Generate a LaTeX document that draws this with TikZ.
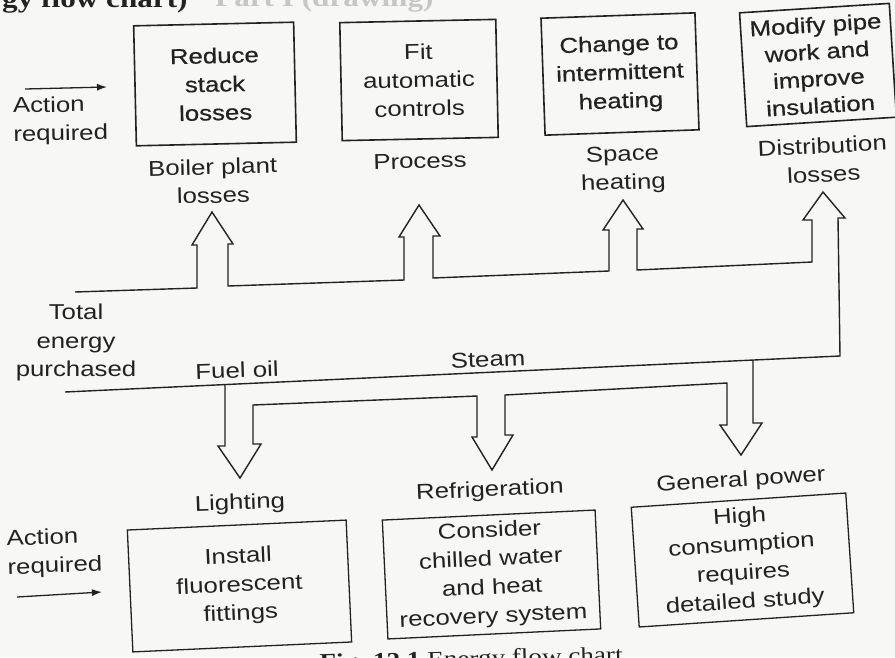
\documentclass[tikz,border=0pt]{standalone}
\usepackage{fontspec}
\setmainfont{Liberation Sans}[FakeStretch=1.2]
\newfontfamily\heavyfont{Liberation Sans}[FakeStretch=1.2, FakeBold=0.6]
\newfontfamily\capfont{Liberation Serif}[FakeStretch=1.2]
\usetikzlibrary{arrows.meta}
\definecolor{ink}{HTML}{222222}
\definecolor{paper}{HTML}{F7F7F5}
\tikzset{
  lbl/.style={font=\fontsize{21.5}{28.5}\selectfont, align=center, inner sep=0pt, text=ink},
  actbox/.style={draw=ink, line width=1.6pt, inner sep=0pt, align=center,
    font=\fontsize{21.5}{28.5}\selectfont, text=ink},
  heavy/.style={font=\heavyfont\fontsize{21.5}{28.5}\selectfont},
  lowbox/.style={actbox, line width=1.3pt},
  flow/.style={draw=ink, line width=1.4pt, line join=miter},
  pointer/.style={draw=ink, line width=1.3pt, -{Latex[length=10pt,width=7pt]}},
}
\begin{document}
\begin{tikzpicture}[x=1pt,y=-1pt]
\fill[paper] (0,0) rectangle (895,657);
\useasboundingbox (0,0) rectangle (895,657);
\clip (0,0) rectangle (895,657);

% partial heading and caption (cut by the page edge)
\node[anchor=base west, inner sep=0pt, text=ink,
  font=\capfont\bfseries\fontsize{26}{30}\selectfont] (title) at (2,7) {gy flow chart)};
\node[anchor=base west, inner sep=0pt, text=gray!45,
  font=\capfont\bfseries\fontsize{26}{30}\selectfont] (title2) at (215,6) {Part I (drawing)};
\node[anchor=base east, inner sep=0pt, rotate=1.5, text=ink,
  font=\capfont\fontsize{22.6}{26}\selectfont] (caption) at (623,662) {\textbf{Fig. 12.1} Energy flow chart};

% action boxes, top row
\node[actbox, heavy, rotate=1.3, minimum width=160pt, minimum height=120pt] (b1) at (215,84) {Reduce\\stack\\losses};
\node[actbox, rotate=1.2, minimum width=156pt, minimum height=118pt] (b2) at (419,80) {Fit\\automatic\\controls};
\node[actbox, heavy, rotate=2, minimum width=154pt, minimum height=117pt] (b3) at (620,74) {Change to\\intermittent\\heating};
\node[actbox, rotate=3.6, minimum width=150pt, minimum height=114pt,
  font=\heavyfont\fontsize{21.5}{27}\selectfont] (b4) at (818,65) {Modify pipe\\work and\\improve\\insulation};

% action boxes, bottom row
\node[lowbox, rotate=2.6, minimum width=219pt, minimum height=122pt] (l1) at (239.5,586) {Install\\fluorescent\\fittings};
\node[lowbox, rotate=2.7, minimum width=213pt, minimum height=119pt] (l2) at (491.5,574.5) {Consider\\chilled water\\and heat\\recovery system};
\node[lowbox, rotate=3.8, minimum width=215pt, minimum height=120pt] (l3) at (742.5,560) {High\\consumption\\requires\\detailed study};

% labels
\node[lbl, rotate=1, anchor=west, align=left] (act1) at (13,121.5) {Action\\required};
\node[lbl, rotate=1.5] (boiler) at (213,181) {Boiler plant\\losses};
\node[lbl, rotate=1.5] (process) at (420,161) {Process};
\node[lbl, rotate=2] (space) at (623,170) {Space\\heating};
\node[lbl, rotate=3] (distrib) at (823,160) {Distribution\\losses};
\node[lbl] (total) at (76,342.5) {Total\\energy\\purchased};
\node[lbl, rotate=2] (fuel) at (237,370) {Fuel oil};
\node[lbl, rotate=2.5] (steam) at (488,359.5) {Steam};
\node[lbl, rotate=2] (light) at (240,504) {Lighting};
\node[lbl, rotate=2.5] (refrig) at (490,491) {Refrigeration};
\node[lbl, rotate=3.5] (genpow) at (741,481) {General power};
\node[lbl, rotate=2, anchor=west, align=left] (act2) at (7,554.5) {Action\\required};

% "action required" pointers
\coordinate (p1s) at (25,89);  \coordinate (p1e) at (107,87);
\coordinate (p2s) at (17,597); \coordinate (p2e) at (102,592);
\draw[pointer] (p1s) -- (p1e);
\draw[pointer] (p2s) -- (p2e);

% upper edge of the energy band with the loss arrows
\draw[flow] (75,292) -- (197,288) -- (197,245) -- (192,245) -- (212,212) -- (233,244) -- (228,244)
  -- (228,286) -- (404,280) -- (404,237) -- (399,237) -- (419,205) -- (440,236) -- (433,236)
  -- (433,278) -- (609,271) -- (609,230) -- (603,230) -- (623,200) -- (643,229) -- (637,229)
  -- (637,270) -- (812,262) -- (812,220) -- (803,220) -- (823,192) -- (845,218) -- (838,218)
  -- (840,356) -- (65,392);

% lower branches to the users
\draw[flow] (225,384.6) -- (225,446) -- (218,446) -- (240,478) -- (261,444) -- (253,444)
  -- (253,405) -- (477,396) -- (477,437) -- (472,437) -- (492,470) -- (513,435) -- (505,435)
  -- (505,395) -- (727,383) -- (727,425) -- (720,425) -- (741,455) -- (762,423) -- (753,423)
  -- (753,360);
\end{tikzpicture}
\end{document}
